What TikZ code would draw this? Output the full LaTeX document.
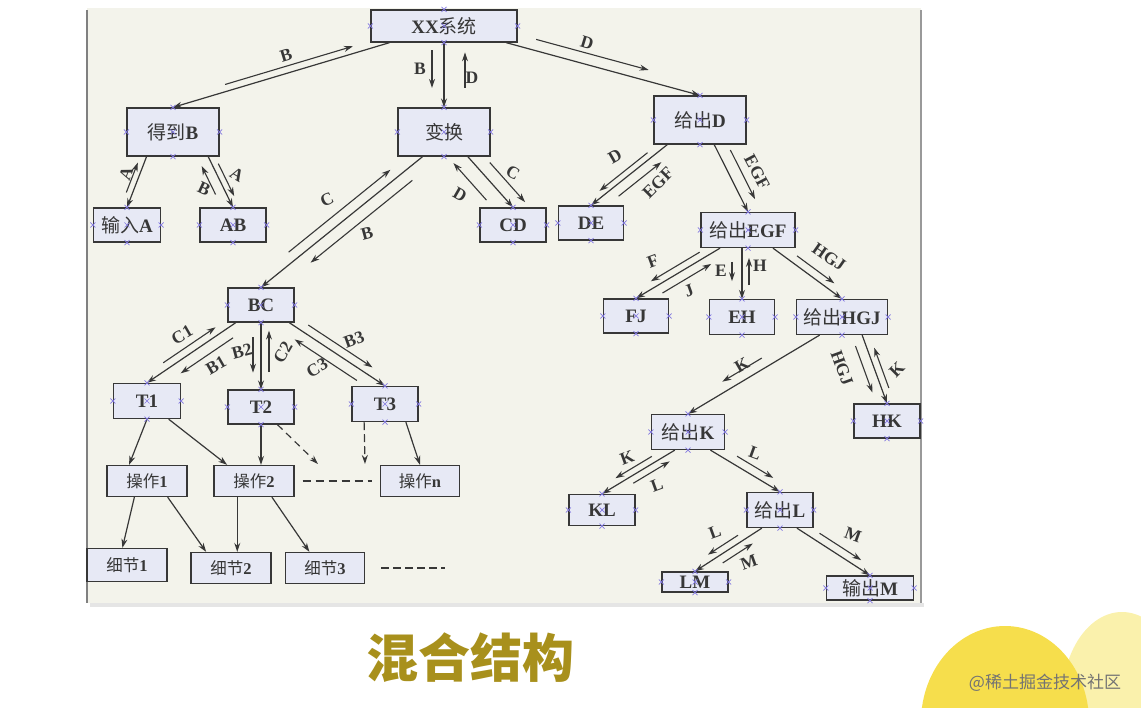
\documentclass[tikz,border=0pt]{standalone}
\usepackage{fontspec}
\setmainfont{Liberation Serif}
\newfontfamily\cjk{Noto Sans CJK SC}
\usetikzlibrary{calc,arrows.meta}
\definecolor{panel}{RGB}{243,243,235}
\definecolor{boxfill}{RGB}{231,233,245}
\definecolor{ink}{RGB}{55,55,55}
\definecolor{gold}{RGB}{168,144,28}
\definecolor{sun}{RGB}{246,222,76}
\definecolor{palesun}{RGB}{250,241,172}
\definecolor{handle}{RGB}{130,120,225}
\newcommand{\zh}[1]{{\cjk\mdseries #1}}
% short arrow beside an edge: src, dst, from, to, signed offset
\newcommand{\pside}[5]{%
  \coordinate (s1) at ($(#1)!#5!90:(#2)$);
  \coordinate (s2) at ($(#2)!#5!-90:(#1)$);
  \draw[flow] ($(s1)!#3!(s2)$) -- ($(s1)!#4!(s2)$);}
\tikzset{
  box/.style={draw=ink, fill=boxfill, line width=1.3pt, inner sep=0pt, text=ink,
    font=\fontsize{19}{22}\selectfont\bfseries},
  lowbox/.style={box, font=\fontsize{16.5}{20}\selectfont\bfseries},
  lab/.style={text=ink, inner sep=0pt, font=\fontsize{17.5}{19}\selectfont\bfseries},
  link/.style={->, draw=ink, line width=1.2pt},
  flow/.style={->, draw=ink, line width=1.1pt},
  more/.style={dash pattern=on 8pt off 5pt},
  >={Stealth[length=9pt,width=6pt]}
}
\begin{document}
\begin{tikzpicture}[x=1pt, y=-1pt]
  \useasboundingbox (0,0) rectangle (1141,708);
  % slide background
  \begin{scope}
    \clip (0,0) rectangle (1141,708);
    \fill[palesun] (1122,700) ellipse [x radius=60, y radius=88];
    \fill[sun] (1005,722) ellipse [x radius=84, y radius=96];
  \end{scope}
  \fill[black!10] (90,603) rectangle (924,607);
  \fill[panel] (87,8) rectangle (921,603);
  \draw[gray, line width=1.5pt] (87,10) -- (87,603);
  \draw[gray!80, line width=1.5pt] (921,10) -- (921,603);

  % boxes
  \node[box, minimum width=146, minimum height=32] (xx) at (444,26) {XX\zh{系统}};
  \node[box, minimum width=92, minimum height=48] (db) at (173,132) {\zh{得到}B};
  \node[box, minimum width=92, minimum height=48] (bh) at (444,132) {\zh{变换}};
  \node[box, minimum width=92, minimum height=48] (gd) at (700,120) {\zh{给出}D};
  \node[box, minimum width=67, minimum height=34] (sra) at (127,225) {\zh{输入}A};
  \node[box, minimum width=66, minimum height=34] (ab) at (233,225) {AB};
  \node[box, minimum width=66, minimum height=34] (cd) at (513,225) {CD};
  \node[box, minimum width=65, minimum height=34] (de) at (591,223) {DE};
  \node[box, minimum width=94, minimum height=35] (egf) at (748,230) {\zh{给出}EGF};
  \node[box, minimum width=66, minimum height=34] (bc) at (261,305) {BC};
  \node[box, minimum width=65, minimum height=34] (fj) at (636,316) {FJ};
  \node[box, minimum width=65, minimum height=35] (eh) at (742,317) {EH};
  \node[box, minimum width=91, minimum height=35] (hgj) at (842,317) {\zh{给出}HGJ};
  \node[box, minimum width=67, minimum height=35] (t1) at (147,401) {T1};
  \node[box, minimum width=66, minimum height=34] (t2) at (261,407) {T2};
  \node[box, minimum width=66, minimum height=35] (t3) at (385,404) {T3};
  \node[lowbox, minimum width=80, minimum height=31] (op1) at (147,481) {\zh{操作}1};
  \node[lowbox, minimum width=80, minimum height=31] (op2) at (254,481) {\zh{操作}2};
  \node[lowbox, minimum width=79, minimum height=31] (opn) at (420,481) {\zh{操作}n};
  \node[lowbox, minimum width=80, minimum height=33] (xj1) at (127,565) {\zh{细节}1};
  \node[lowbox, minimum width=80, minimum height=31] (xj2) at (231,568) {\zh{细节}2};
  \node[lowbox, minimum width=79, minimum height=31] (xj3) at (325,568) {\zh{细节}3};
  \node[box, minimum width=73, minimum height=35] (gk) at (688,432) {\zh{给出}K};
  \node[box, minimum width=66, minimum height=34] (hk) at (887,421) {HK};
  \node[box, minimum width=66, minimum height=31] (kl) at (602,510) {KL};
  \node[box, minimum width=66, minimum height=35] (gl) at (780,510) {\zh{给出}L};
  \node[box, minimum width=66, minimum height=20] (lm) at (695,582) {LM};
  \node[box, minimum width=87, minimum height=24] (om) at (870,588) {\zh{输出}M};

  % edges
  \draw[link] (xx.197) -- (db.north);
  \draw[link] (xx.south) -- (bh.north);
  \draw[link] (xx.-15) -- (gd.north);
  \draw[link] (db.223) -- (sra.north);
  \draw[link] (db.-35) -- (ab.north);
  \draw[link] (bh.-46) -- (cd.north);
  \draw[link] (bh.229) -- (bc.north);
  \draw[link] (gd.217) -- (de.north);
  \draw[link] (gd.-60) -- (egf.north);
  \draw[link] (egf.213) -- (fj.north);
  \coordinate (ehtop) at (eh.north |- egf.south);
  \draw[link] (ehtop) -- (eh.north);
  \draw[link] (egf.-36) -- (hgj.north);
  \draw[link] (hgj.219) -- (gk.north);
  \draw[link] (hgj.-42) -- (hk.north);
  \draw[link] (gk.234) -- (kl.north);
  \draw[link] (gk.-39) -- (gl.north);
  \draw[link] (gl.225) -- (lm.north);
  \draw[link] (gl.-47) -- (om.north);
  \draw[link] (bc.215) -- (t1.north);
  \draw[link] (bc.south) -- (t2.north);
  \draw[link] (bc.-32) -- (t3.north);
  \draw[link] (t1.south) -- (op1.138);
  \draw[link] (t1.-40) -- (op2.149);
  \draw[link] (t2.south) -- (t2.south |- op2.north);
  \coordinate (dt2) at (318,464);
  \coordinate (dt3) at (365,464);
  \draw[link, dash pattern=on 7pt off 5pt] (t2.-47) -- (dt2);
  \draw[link, dash pattern=on 8pt off 4pt] (t3.221) -- (dt3);
  \draw[link] (t3.-41) -- (opn.north);
  \draw[link] (op1.232) -- (xj1.105);
  \draw[link] (op1.-38) -- (xj2.147);
  \draw[link] (op2.224) -- (op2.224 |- xj2.north);
  \draw[link] (op2.-42) -- (xj3.134);
  \draw[ink, more, line width=1.1pt] ([xshift=8]op2.east) -- ([xshift=-8]opn.west);
  \draw[ink, dash pattern=on 8pt off 4pt, line width=1.1pt] ([xshift=16]xj3.east) -- ([xshift=80]xj3.east);

  % data flow beside the edges
  \pside{xx.197}{db.north}{0.75}{0.16}{-7pt}
  \pside{xx.south}{bh.north}{0.12}{0.70}{-12pt}
  \pside{xx.south}{bh.north}{0.70}{0.15}{21pt}
  \pside{xx.-15}{gd.north}{0.14}{0.72}{11pt}
  \pside{db.223}{sra.north}{0.75}{0.16}{-6pt}
  \pside{db.-35}{ab.north}{0.66}{0.10}{-10pt}
  \pside{db.-35}{ab.north}{0.19}{0.83}{6pt}
  \pside{bh.-46}{cd.north}{0.66}{-0.07}{-15pt}
  \pside{bh.-46}{cd.north}{0.28}{1.06}{12.5pt}
  \pside{bh.229}{bc.north}{0.79}{0.16}{-10pt}
  \pside{bh.229}{bc.north}{0.11}{0.74}{12pt}
  \pside{gd.217}{de.north}{0.21}{0.84}{-6pt}
  \pside{gd.217}{de.north}{0.72}{0.16}{10pt}
  \pside{gd.-60}{egf.north}{0.16}{0.89}{12pt}
  \pside{egf.213}{fj.north}{0.20}{0.78}{-7pt}
  \pside{egf.213}{fj.north}{0.74}{0.16}{9pt}
  \pside{ehtop}{eh.north}{0.27}{0.65}{-10pt}
  \pside{ehtop}{eh.north}{0.73}{0.19}{7pt}
  \pside{egf.-36}{hgj.north}{0.28}{0.82}{8pt}
  \pside{hgj.219}{gk.north}{0.40}{0.70}{-10pt}
  \pside{hgj.-42}{hk.north}{0.11}{0.79}{-10pt}
  \pside{hgj.-42}{hk.north}{0.81}{0.22}{7pt}
  \pside{gk.234}{kl.north}{0.27}{0.77}{-6.5pt}
  \pside{gk.234}{kl.north}{0.62}{0.12}{7pt}
  \pside{gk.-39}{gl.north}{0.32}{0.84}{8.5pt}
  \pside{gl.225}{lm.north}{0.30}{0.75}{-7pt}
  \pside{gl.225}{lm.north}{0.65}{0.20}{8pt}
  \pside{gl.-47}{om.north}{0.25}{0.82}{8pt}
  \pside{bc.215}{t1.north}{0.77}{0.18}{-7.5pt}
  \pside{bc.215}{t1.north}{0.10}{0.69}{11pt}
  \pside{bc.south}{t2.north}{0.22}{0.75}{-8pt}
  \pside{bc.south}{t2.north}{0.74}{0.12}{8pt}
  \pside{bc.-32}{t3.north}{0.15}{0.82}{8.5pt}
  \pside{bc.-32}{t3.north}{0.77}{0.12}{-11pt}

  % flow labels
  \node[lab, rotate=17] (l1) at (286,55) {B};
  \node[lab] (l2) at (420,69) {B};
  \node[lab] (l3) at (472,78) {D};
  \node[lab, rotate=-17] (l4) at (587,43) {D};
  \node[lab, rotate=70] (l5) at (126,174) {A};
  \node[lab, rotate=-25] (l6) at (204,189) {B};
  \node[lab, rotate=-30] (l7) at (237,175) {A};
  \node[lab, rotate=25] (l8) at (327,200) {C};
  \node[lab, rotate=15] (l9) at (367,233) {B};
  \node[lab, rotate=-30] (l10) at (460,195) {D};
  \node[lab, rotate=-30] (l11) at (513,173) {C};
  \node[lab, rotate=30] (l12) at (615,156) {D};
  \node[lab, rotate=45] (l13) at (658,183) {EGF};
  \node[lab, rotate=-62] (l14) at (757,172) {EGF};
  \node[lab, rotate=20] (l15) at (653,261) {F};
  \node[lab, rotate=20] (l16) at (689,291) {J};
  \node[lab] (l17) at (721,271) {E};
  \node[lab] (l18) at (760,266) {H};
  \node[lab, rotate=-35] (l19) at (829,257) {HGJ};
  \node[lab, rotate=30] (l20) at (742,365) {K};
  \node[lab, rotate=-70] (l21) at (842,368) {HGJ};
  \node[lab, rotate=45] (l22) at (897,370) {K};
  \node[lab, rotate=20] (l23) at (627,458) {K};
  \node[lab, rotate=20] (l24) at (657,485) {L};
  \node[lab, rotate=-20] (l25) at (755,453) {L};
  \node[lab, rotate=20] (l26) at (715,532) {L};
  \node[lab, rotate=20] (l27) at (749,562) {M};
  \node[lab, rotate=-20] (l28) at (853,535) {M};
  \node[lab, rotate=30] (l29) at (182,335) {C1};
  \node[lab, rotate=30] (l30) at (216,365) {B1};
  \node[lab, rotate=15] (l31) at (242,351) {B2};
  \node[lab, rotate=60] (l32) at (283,352) {C2};
  \node[lab, rotate=20] (l33) at (354,340) {B3};
  \node[lab, rotate=30] (l34) at (317,368) {C3};

  % connection handles
  \foreach \n in {xx,db,bh,gd,sra,ab,cd,de,egf,bc,fj,eh,hgj,t1,t2,t3,gk,hk,kl,gl,lm,om}
    \foreach \a in {north,south,east,west,center}
      \draw[handle, line width=0.7pt] (\n.\a) +(-2.5,-2.5) -- +(2.5,2.5) +(-2.5,2.5) -- +(2.5,-2.5);

  % slide title and mark
  \node[text=gold, font=\cjk\bfseries\fontsize{52}{56}\selectfont] (title) at (470,658) {混合结构};
  \node[text=black!55, font=\cjk\fontsize{17}{20}\selectfont] (mark) at (1045,683) {@稀土掘金技术社区};
\end{tikzpicture}
\end{document}
